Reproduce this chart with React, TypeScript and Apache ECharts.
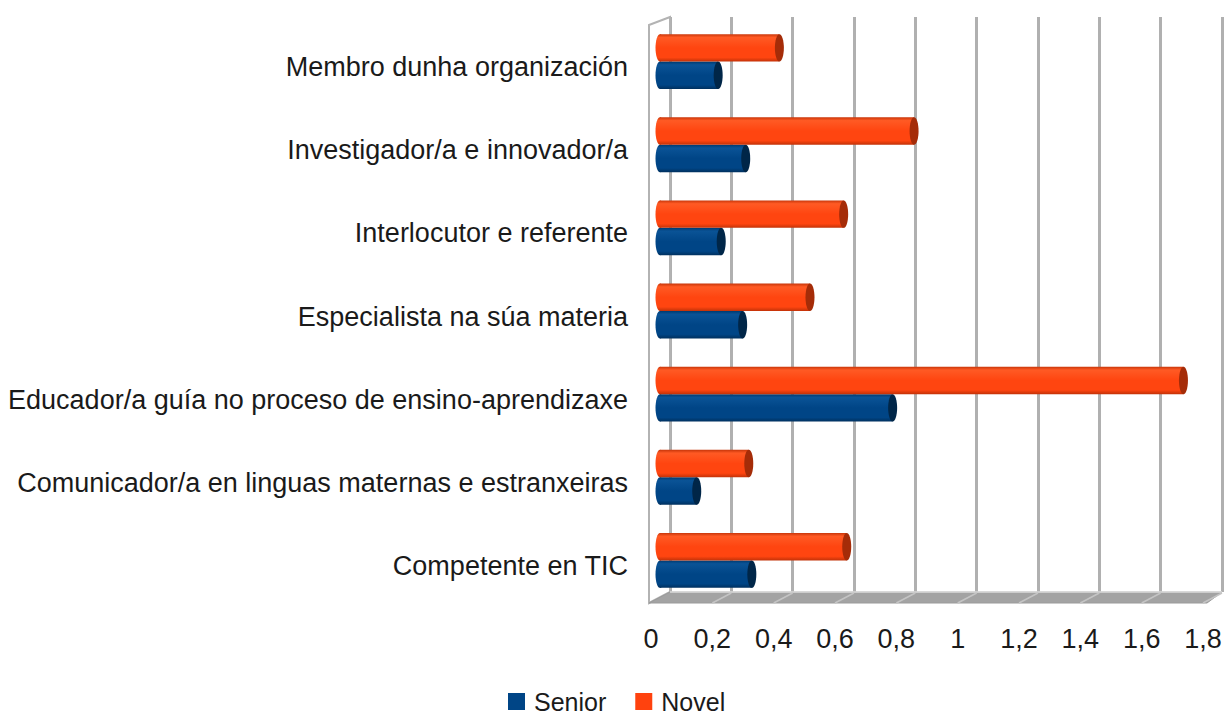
import React, { useEffect, useRef } from "react";
import * as echarts from "echarts";

const categories = [
  "Membro dunha organización",
  "Investigador/a e innovador/a",
  "Interlocutor e referente",
  "Especialista na súa materia",
  "Educador/a guía no proceso de ensino-aprendizaxe",
  "Comunicador/a en linguas maternas e estranxeiras",
  "Competente en TIC",
];
const seniorValues = [0.19, 0.28, 0.2, 0.27, 0.76, 0.12, 0.3];
const novelValues = [0.39, 0.83, 0.6, 0.49, 1.71, 0.29, 0.61];
const tickValues = [0, 0.2, 0.4, 0.6, 0.8, 1, 1.2, 1.4, 1.6, 1.8];

const FONT = "'Liberation Sans', Arial, sans-serif";

type Palette = { edge: string; light: string; main: string; dark: string; cap: string };
const RED: Palette = { edge: "#c8360a", light: "#ff5a24", main: "#ff4510", dark: "#c23208", cap: "#a52c08" };
const BLUE: Palette = { edge: "#003a70", light: "#0a5396", main: "#004586", dark: "#00305e", cap: "#002648" };

function cylinder(pal: Palette, offset: number) {
  return (params: any, api: any) => {
    const val = api.value(0);
    const cat = api.value(1);
    const start = api.coord([0, cat]);
    const end = api.coord([val, cat]);
    const band = api.size([0, 1])[1];
    const h = band * 0.33;
    const cy = start[1] + offset * h * 0.5;
    const rx = 4.5;
    const grad = {
      type: "linear",
      x: 0,
      y: 0,
      x2: 0,
      y2: 1,
      colorStops: [
        { offset: 0, color: pal.edge },
        { offset: 0.12, color: pal.light },
        { offset: 0.5, color: pal.main },
        { offset: 0.85, color: pal.main },
        { offset: 1, color: pal.dark },
      ],
    };
    return {
      type: "group",
      children: [
        {
          type: "ellipse",
          shape: { cx: start[0], cy, rx, ry: h / 2 },
          style: { fill: grad },
        },
        {
          type: "rect",
          shape: { x: start[0], y: cy - h / 2, width: Math.max(end[0] - start[0], 0), height: h },
          style: { fill: grad },
        },
        {
          type: "ellipse",
          shape: { cx: end[0], cy, rx, ry: h / 2 },
          style: { fill: pal.cap },
        },
      ],
    };
  };
}

export default function App() {
  const ref = useRef<HTMLDivElement>(null);
  useEffect(() => {
    if (!ref.current) return;
    const chart = echarts.init(ref.current, undefined, { renderer: "svg" });
    const option: any = {
      animation: false,
      backgroundColor: "#ffffff",
      textStyle: { fontFamily: FONT },
      grid: [
        { left: 670, right: 5, top: 17, bottom: 124 },
        { left: 651, right: 24, top: 17, bottom: 113 },
        { left: 660, right: 16, top: 20, bottom: 114 },
      ],
      xAxis: [
        {
          type: "value",
          gridIndex: 0,
          min: 0,
          max: 1.8,
          interval: 0.2,
          axisLabel: { show: false },
          axisLine: { show: false },
          axisTick: { show: false },
          splitLine: { show: true, lineStyle: { color: "#b0b0b0", width: 3 } },
        },
        {
          type: "value",
          gridIndex: 1,
          min: 0,
          max: 1.8,
          interval: 0.2,
          axisLine: { show: false },
          axisTick: { show: false },
          splitLine: { show: false },
          axisLabel: {
            show: true,
            margin: 22,
            fontSize: 27,
            color: "#1a1a1a",
            fontFamily: FONT,
            formatter: (v: number) => String(Math.round(v * 10) / 10).replace(".", ","),
          },
        },
        {
          type: "value",
          gridIndex: 2,
          min: 0,
          max: 1.8,
          show: false,
        },
      ],
      yAxis: [
        { type: "value", gridIndex: 0, show: false },
        { type: "value", gridIndex: 1, show: false },
        {
          type: "category",
          gridIndex: 2,
          inverse: true,
          data: categories,
          axisLine: { show: false },
          axisTick: { show: false },
          splitLine: { show: false },
          axisLabel: {
            margin: 32,
            color: "#1a1a1a",
            fontFamily: FONT,
            interval: 0,
            formatter: (v: string) => `{t|${v}}`,
            rich: {
              t: { fontSize: 27, color: "#1a1a1a", fontFamily: FONT, padding: [11, 0, 0, 0] },
            },
          },
        },
      ],
      legend: {
        data: [
          { name: "Senior", icon: "rect" },
          { name: "Novel", icon: "rect" },
        ],
        left: 508,
        top: 689,
        padding: 0,
        itemWidth: 17,
        itemHeight: 17,
        itemGap: 29,
        textStyle: { fontSize: 25, color: "#1a1a1a", fontFamily: FONT, padding: [0, 0, 0, 4] },
      },
      series: [
        {
          name: "Senior",
          type: "custom",
          xAxisIndex: 2,
          yAxisIndex: 2,
          z: 5,
          itemStyle: { color: "#004586" },
          encode: { x: 0, y: 1 },
          data: seniorValues.map((v, i) => [v, i]),
          renderItem: cylinder(BLUE, 1),
        },
        {
          name: "Novel",
          type: "custom",
          xAxisIndex: 2,
          yAxisIndex: 2,
          z: 5,
          itemStyle: { color: "#ff420e" },
          encode: { x: 0, y: 1 },
          data: novelValues.map((v, i) => [v, i]),
          renderItem: cylinder(RED, -1),
        },
      ],
    };
    chart.setOption(option);

    const backY = 592;
    const frontY = 603;
    const topBack = 17;
    const topFront = 25;
    const bx = (v: number) => chart.convertToPixel({ xAxisIndex: 0 }, v) as number;
    const fx = (v: number) => chart.convertToPixel({ xAxisIndex: 1 }, v) as number;
    const b0 = bx(0);
    const f0 = fx(0) - 2;
    const bEnd = bx(1.8);
    const fEnd = fx(1.8) + 4;
    const graphics: any[] = [
      {
        type: "polygon",
        z: 1,
        shape: { points: [[f0, topFront], [b0, topBack], [b0, backY], [f0, frontY]] },
        style: { fill: "#ffffff", stroke: "#b3b3b3", lineWidth: 2 },
      },
      {
        type: "polygon",
        z: 1,
        shape: { points: [[b0, backY], [bEnd, backY], [fEnd, frontY], [f0, frontY]] },
        style: { fill: "#a3a3a3", stroke: "#9a9a9a", lineWidth: 1 },
      },
      {
        type: "line",
        z: 1,
        shape: { x1: b0, y1: backY, x2: bEnd, y2: backY },
        style: { stroke: "#dcdcdc", lineWidth: 1.5 },
      },
      ...tickValues.slice(1).map((v) => ({
        type: "line",
        z: 1,
        shape: { x1: bx(v), y1: backY + 1, x2: fx(v), y2: frontY },
        style: { stroke: "#c4c4c4", lineWidth: 1.5 },
      })),
    ];
    chart.setOption({ graphic: graphics });

    return () => chart.dispose();
  }, []);
  return (
    <div
      ref={ref}
      style={{ position: "fixed", left: 0, top: 0, width: 1227, height: 716 }}
    />
  );
}
